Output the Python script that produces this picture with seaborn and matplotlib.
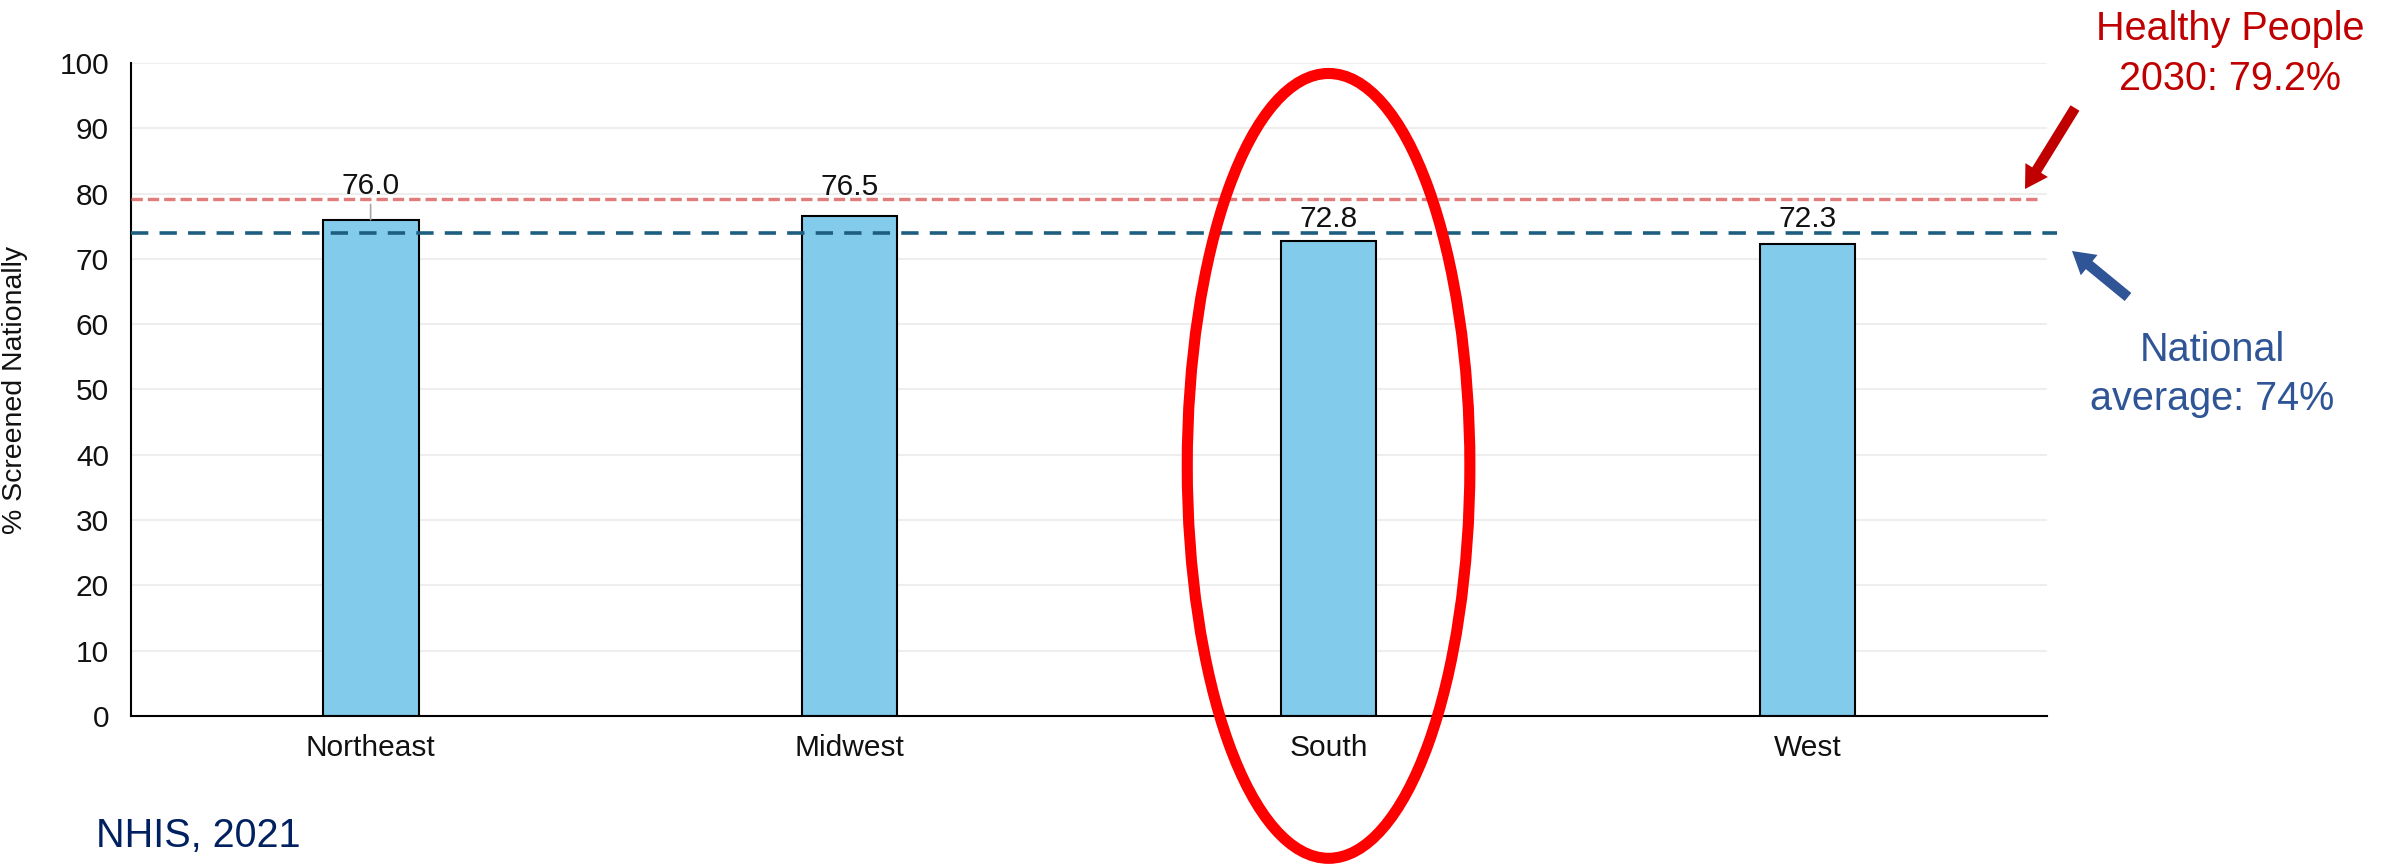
import matplotlib.pyplot as plt
from matplotlib.patches import Ellipse
import seaborn as sns

# data (NHIS, 2021)
regions = ["Northeast", "Midwest", "South", "West"]
pct_screened = [76.0, 76.5, 72.8, 72.3]
y_ticks = list(range(0, 101, 10))
hp2030_target = 79.2
national_avg = 74.0

# label offsets above bar tops (points), as placed in the original
label_pad = [18.7, 15.8, 10.0, 12.2]

sns.set_style("white")
plt.rcParams["font.family"] = ["Liberation Sans", "DejaVu Sans"]

W, H = 2397, 867
fig = plt.figure(figsize=(W / 100, H / 100), dpi=100)
ax = fig.add_axes([0.0547, 0.1742, 0.7993, 0.7531])


def fig_xy(x, y):
    # pixel position (from top-left) -> figure fraction
    return (x / W, 1 - y / H)


sns.barplot(x=regions, y=pct_screened, color="#83CBEB", saturation=1,
            width=0.2, edgecolor="black", linewidth=1.5, ax=ax, zorder=2)

ax.set_xlim(-0.5, 3.5)
ax.set_ylim(0, 100)
ax.set_yticks(y_ticks)
ax.set_axisbelow(True)
ax.yaxis.grid(True, color="#EEEEEE", linewidth=1.5)
ax.xaxis.grid(False)
for side in ["top", "right"]:
    ax.spines[side].set_visible(False)
for side in ["left", "bottom"]:
    ax.spines[side].set_color("black")
    ax.spines[side].set_linewidth(1.5)
ax.tick_params(axis="y", length=0, labelsize=21.5, pad=16, labelcolor="#111111")
ax.tick_params(axis="x", length=0, labelsize=21.5, pad=13, labelcolor="#111111")
ax.set_xlabel("")
ax.set_ylabel("% Screened Nationally", fontsize=20.5, color="#111111")
ax.yaxis.set_label_coords(-0.054, 0.5)

# reference lines
ax.axhline(hp2030_target, xmin=0, xmax=0.996, color="#E27B7B", lw=2.4,
           linestyle=(0, (3.4, 1.5)), zorder=3)
ax.axhline(national_avg, xmin=0, xmax=1.005, color="#1D5E80", lw=2.6,
           linestyle=(0, (4.8, 3.1)), zorder=3, clip_on=False)

# value labels
for i, (v, pad) in enumerate(zip(pct_screened, label_pad)):
    props = None
    if i == 0:
        props = dict(arrowstyle="-", color="#A6A6A6", lw=1.2, shrinkA=1, shrinkB=0)
    ax.annotate(f"{v:.1f}", xy=(i, v), xytext=(0, pad), textcoords="offset points",
                ha="center", va="baseline", fontsize=21.5, color="#111111",
                arrowprops=props, zorder=5)

# highlight South
ax.add_patch(Ellipse((2, 38.3), width=0.59, height=120.2, fill=False,
                     edgecolor="#FF0000", lw=8, clip_on=False, zorder=6))

# callouts on the right
arrow_style = "simple,head_length=1.6,head_width=1.9,tail_width=0.75"
ax.annotate("", xy=fig_xy(2025, 189), xytext=fig_xy(2075, 108),
            xycoords="figure fraction", textcoords="figure fraction",
            arrowprops=dict(arrowstyle=arrow_style, color="#C00000", lw=0,
                            shrinkA=0, shrinkB=0, mutation_scale=10))
ax.annotate("", xy=fig_xy(2072, 251), xytext=fig_xy(2128, 297),
            xycoords="figure fraction", textcoords="figure fraction",
            arrowprops=dict(arrowstyle=arrow_style, color="#2F5597", lw=0,
                            shrinkA=0, shrinkB=0, mutation_scale=10))

fig.text(*fig_xy(2230, 40), "Healthy People", color="#C00000", fontsize=28.5,
         ha="center", va="baseline")
fig.text(*fig_xy(2230, 90), "2030: 79.2%", color="#C00000", fontsize=28.5,
         ha="center", va="baseline")
fig.text(*fig_xy(2212, 361), "National", color="#2F5597", fontsize=28.5,
         ha="center", va="baseline")
fig.text(*fig_xy(2212, 410), "average: 74%", color="#2F5597", fontsize=28.5,
         ha="center", va="baseline")
fig.text(*fig_xy(96, 847), "NHIS, 2021", color="#002060", fontsize=28.5,
         ha="left", va="baseline")

fig.savefig("out.png", dpi=100)
